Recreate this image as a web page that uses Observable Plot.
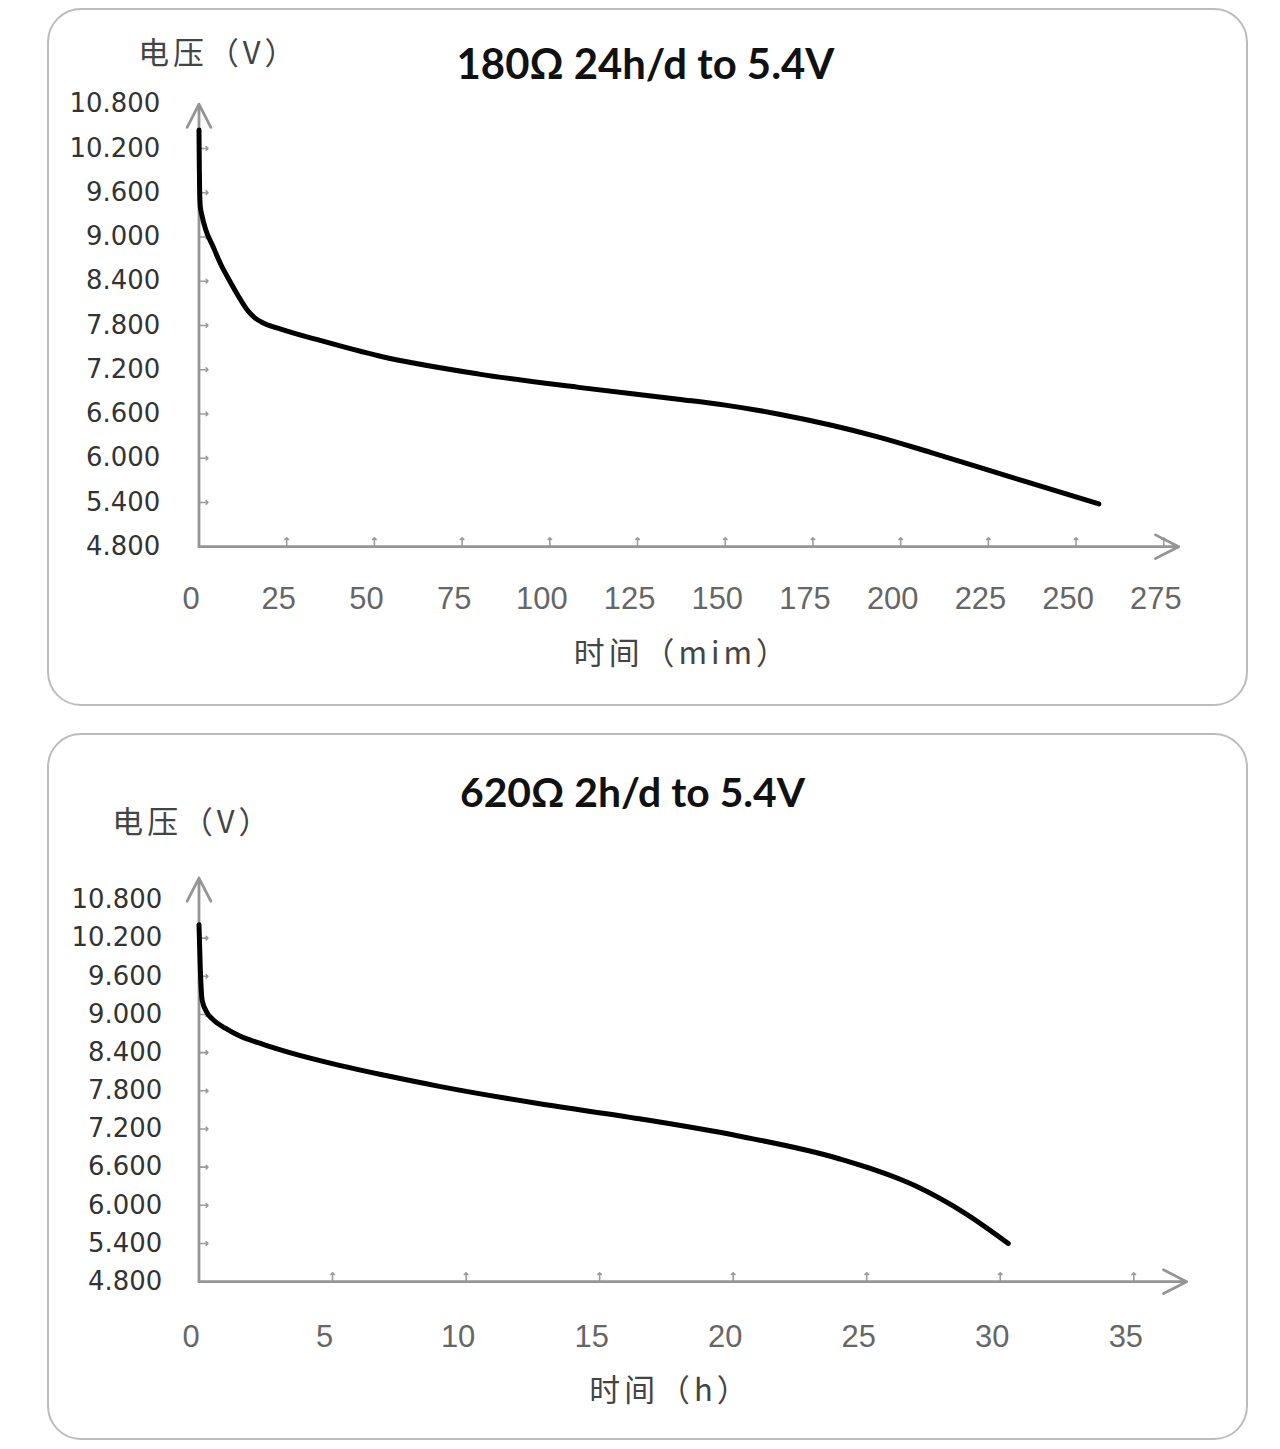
<!DOCTYPE html>
<html><head><meta charset="utf-8">
<script src="https://cdn.jsdelivr.net/npm/d3@7"></script>
<script src="https://cdn.jsdelivr.net/npm/@observablehq/plot@0.6"></script>
<style>
html,body{margin:0;padding:0;background:#fff}
body{width:1280px;height:1449px;position:relative;overflow:hidden}
.panel{position:absolute;left:47px;width:1201px;border:2px solid #bcbcbc;border-radius:34px;box-sizing:border-box;background:#fff}
.panel svg{position:absolute;left:-2px;top:-2px;overflow:visible}
svg text{text-spacing-trim:space-all;font-feature-settings:"chws" 0,"halt" 0,"palt" 0}
</style>
</head><body>
<div id="p1" class="panel" style="top:8px;height:698px"></div>
<div id="p2" class="panel" style="top:733px;height:707px"></div>
<script>
// ---- data ----
const yTicks = [4.8, 5.4, 6.0, 6.6, 7.2, 7.8, 8.4, 9.0, 9.6, 10.2, 10.8];
const xTicks1 = [0, 25, 50, 75, 100, 125, 150, 175, 200, 225, 250, 275];
const xTicks2 = [0, 5, 10, 15, 20, 25, 30, 35];

// panel 1: 180Ω 24h/d, time in minutes
const time1 = [0, 0.08, 0.18, 0.35, 0.8, 1.9, 4.0, 6.2, 8.8, 11.2, 13.6, 16.0, 18.5, 24, 33.5, 51.4, 79.8, 108.2, 136.6, 150, 165, 180, 193.5, 208.5, 232.4, 256.5];
const volt1 = [10.45, 10.0, 9.65, 9.42, 9.30, 9.10, 8.87, 8.63, 8.40, 8.20, 8.02, 7.90, 7.83, 7.74, 7.61, 7.385, 7.14, 6.96, 6.80, 6.72, 6.60, 6.45, 6.29, 6.08, 5.73, 5.38];

// panel 2: 620Ω 2h/d, time in hours
const time2 = [0, 0.05, 0.12, 0.3, 0.55, 1.0, 1.53, 2.4, 3.4, 5.26, 7.0, 9.0, 12.7, 16.5, 20.2, 23.9, 26.8, 28.7, 30.3];
const volt2 = [10.41, 9.7, 9.22, 9.03, 8.91, 8.78, 8.66, 8.53, 8.40, 8.20, 8.04, 7.87, 7.60, 7.36, 7.09, 6.74, 6.31, 5.87, 5.40];

const titles = ["180Ω 24h/d to 5.4V", "620Ω 2h/d to 5.4V"];
const yLabel = "电压（V）";
const xLabels = ["时间（mim）", "时间（h）"];

function makePanel(cfg) {
  const data = cfg.time.map((t, i) => ({t, v: cfg.volt[i]}));
  const yMin = cfg.yDomain[0], yMax = cfg.yDomain[1];
  const xMin = cfg.xDomain[0], xMax = cfg.xDomain[1];
  const axisColor = "#959595";
  const svg = Plot.plot({
    width: cfg.width, height: cfg.height,
    marginLeft: cfg.mL, marginRight: cfg.mR, marginTop: cfg.mT, marginBottom: cfg.mB,
    style: {background: "transparent", overflow: "visible"},
    x: {domain: cfg.xDomain, axis: null, label: null},
    y: {domain: cfg.yDomain, axis: null, label: null},
    marks: [
      Plot.axisY({ticks: yTicks, tickSize: 0, tickPadding: cfg.yPad, tickFormat: d3.format(".3f"), label: null,
        fontSize: 26, fontFamily: "DejaVu Sans", fill: "#333"}),
      Plot.axisX({ticks: cfg.xTicks, tickSize: 0, tickPadding: cfg.xPad, tickFormat: d => String(d), label: null,
        fontSize: 31, fontFamily: "Liberation Sans", fill: "#666", dx: -8}),
      Plot.vector(yTicks.slice(1, -1), {x: () => xMin, y: d => d, length: 9, rotate: 90, anchor: "start", stroke: "#9c9c9c", strokeWidth: 1.6}),
      Plot.vector(cfg.xTicks.slice(1), {x: d => d, y: () => yMin, length: 9, rotate: 0, anchor: "start", stroke: "#9c9c9c", strokeWidth: 1.6}),
      Plot.arrow([0], {x1: () => xMin, y1: () => yMin, x2: () => xMax, y2: () => yMin, stroke: axisColor, strokeWidth: 2.8, headLength: 14, headAngle: 54}),
      Plot.arrow([0], {x1: () => xMin, y1: () => yMin, x2: () => xMin, y2: () => yMax, stroke: axisColor, strokeWidth: 2.8, headLength: 14, headAngle: 54}),
      Plot.line(data, {x: "t", y: "v", curve: "monotone-x", stroke: "#000", strokeWidth: 5, strokeLinecap: "round", strokeLinejoin: "round"}),
      Plot.text([cfg.title], {frameAnchor: "top-left", text: d => d, dx: cfg.titlePos[0], dy: cfg.titlePos[1], textAnchor: "middle", lineAnchor: "middle",
        fontFamily: "Lato", fontWeight: "bold", fontSize: cfg.titleSize, fill: "#111"}),
      Plot.text([yLabel], {frameAnchor: "top-left", text: d => d, dx: cfg.yLabPos[0], dy: cfg.yLabPos[1], textAnchor: "start", lineAnchor: "middle",
        fontFamily: "Noto Sans CJK SC", fontSize: 31, fill: "#444"}),
      Plot.text([cfg.xLabel], {frameAnchor: "top-left", text: d => d, dx: cfg.xLabPos[0], dy: cfg.xLabPos[1], textAnchor: "middle", lineAnchor: "middle",
        fontFamily: "Noto Sans CJK SC", fontSize: 31, fill: "#444"})
    ]
  });
  // widen the CJK labels (full-width brackets in the reference)
  d3.select(svg).selectAll("text").each(function() {
    const s = (this.textContent || "").trim();
    if (s.indexOf("电压") === 0 || s.indexOf("时间") === 0) {
      this.style.letterSpacing = cfg.cjkSpacing + "px";
    }
  });
  return svg;
}

document.getElementById("p1").append(makePanel({
  time: time1, volt: volt1, xTicks: xTicks1, title: titles[0], xLabel: xLabels[0],
  width: 1201, height: 698, mL: 152, mR: 66, mT: 96, mB: 158,
  xDomain: [0, 279.26], yDomain: [4.8, 10.8], yPad: 39, xPad: 40,
  titlePos: [448, -39], titleSize: 42, yLabPos: [-61, -50], xLabPos: [485, 552], cjkSpacing: 4
}));
document.getElementById("p2").append(makePanel({
  time: time2, volt: volt2, xTicks: xTicks2, title: titles[1], xLabel: xLabels[1],
  width: 1201, height: 707, mL: 152, mR: 58, mT: 145, mB: 157,
  xDomain: [0, 36.98], yDomain: [4.8, 11.145], yPad: 37, xPad: 44,
  titlePos: [435, -84], titleSize: 41, yLabPos: [-87, -55], xLabPos: [473, 515], cjkSpacing: 4
}));
</script>
</body></html>
